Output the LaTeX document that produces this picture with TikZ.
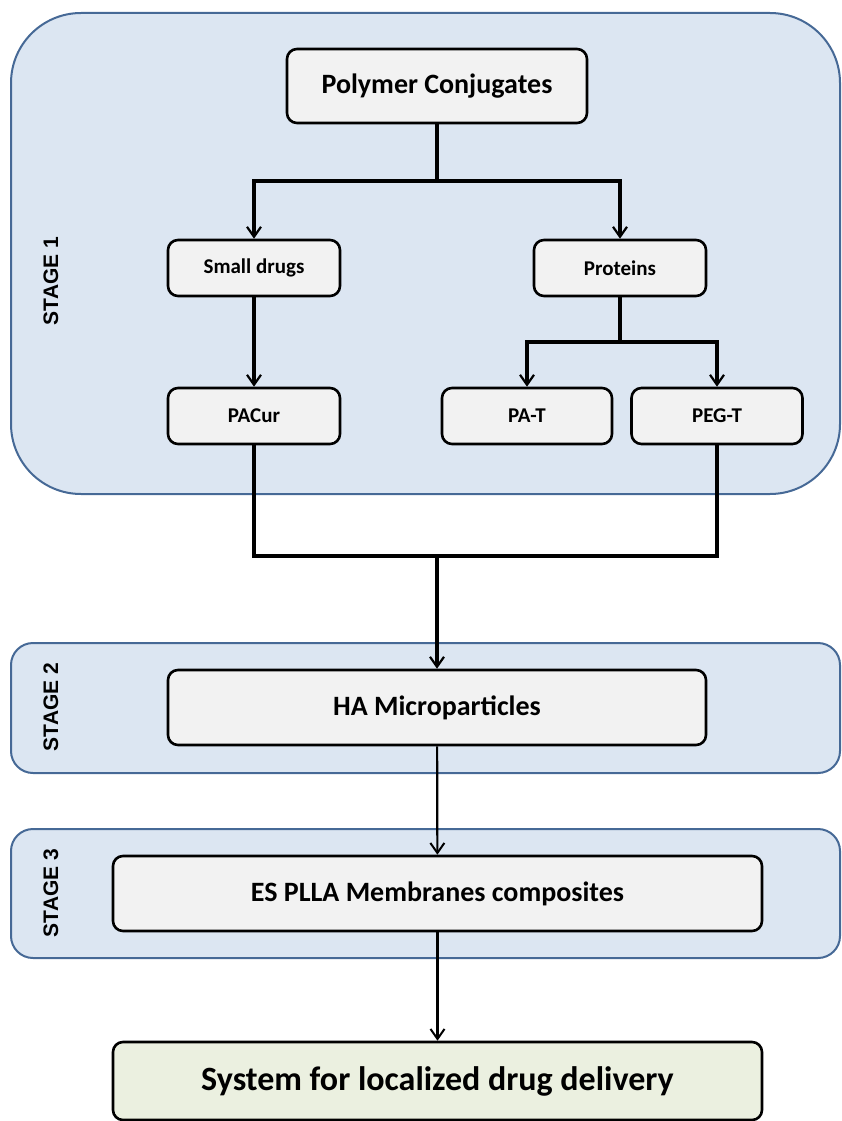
\documentclass[tikz,border=0pt]{standalone}
\usepackage{fontspec}
\setmainfont{Carlito}
\newfontfamily\stagefont{Liberation Sans}
\usetikzlibrary{arrows.meta, positioning}
\definecolor{stagefill}{RGB}{220,230,242}
\definecolor{stageline}{RGB}{70,105,150}
\definecolor{boxfill}{RGB}{242,242,242}
\definecolor{endfill}{RGB}{235,240,224}

\begin{document}
\begin{tikzpicture}[x=1pt, y=-1pt,
    stagebox/.style={rectangle, draw=stageline, fill=stagefill, line width=2pt, inner sep=0pt},
    stagelabel/.style={rotate=90, font=\stagefont\bfseries\fontsize{21}{24}\selectfont},
    item/.style={rectangle, draw, fill=boxfill, rounded corners=10pt, line width=2.6pt, text centered, inner sep=0pt, font=\bfseries\fontsize{21}{24}\selectfont},
    bigitem/.style={item, font=\bfseries\fontsize{28}{32}\selectfont},
    link/.style={line width=3.4pt, -{Straight Barb[length=10pt, width=14pt, line width=2.2pt]}},
    flat/.style={line width=3.4pt},
    thinlink/.style={line width=2.2pt, -{Straight Barb[length=10pt, width=14pt, line width=2pt]}}
]
\useasboundingbox (0,0) rectangle (842,1121);
% Stage backgrounds
\node[stagebox, rounded corners=70pt, minimum width=829pt, minimum height=481pt] (stage1) at (425.5,253.5) {};
\node[stagebox, rounded corners=22pt, minimum width=829pt, minimum height=130pt] (stage2) at (425.5,708) {};
\node[stagebox, rounded corners=22pt, minimum width=829pt, minimum height=129pt] (stage3) at (425.5,893.5) {};
\node[stagelabel] (lab1) at (51,281) {STAGE 1};
\node[stagelabel] (lab2) at (51,707) {STAGE 2};
\node[stagelabel] (lab3) at (51,893) {STAGE 3};
% Stage 1
\node[bigitem, minimum width=300pt, minimum height=74pt] (conj) at (437,86) {Polymer Conjugates};
\node[item, minimum width=172pt, minimum height=56pt] (drugs) at (254,268) {Small drugs};
\node[item, minimum width=172pt, minimum height=56pt] (prot) at (620,268) {Proteins};
\node[item, minimum width=172pt, minimum height=56pt] (pacur) at (254,416) {PACur};
\node[item, minimum width=170pt, minimum height=56pt] (pat) at (527,416) {PA-T};
\node[item, minimum width=171pt, minimum height=56pt] (pegt) at (717,416) {PEG-T};
% Stage 2 and 3
\node[bigitem, minimum width=538pt, minimum height=75pt] (ha) at (437,707.5) {HA Microparticles};
\node[bigitem, minimum width=649pt, minimum height=75pt] (es) at (437.5,893.5) {ES PLLA Membranes composites};
% Result
\node[bigitem, fill=endfill, minimum width=649pt, minimum height=78pt, font=\bfseries\fontsize{34}{38}\selectfont] (system) at (437.5,1081) {System for localized drug delivery};
% Connectors
\coordinate (split1) at (437,181);
\coordinate (split2) at (620,342);
\coordinate (merge) at (437,556);
\draw[flat] (conj) -- (split1);
\draw[link] (split1) -| (drugs);
\draw[link] (split1) -| (prot);
\draw[link] (drugs) -- (pacur);
\draw[flat] (prot) -- (split2);
\draw[link] (split2) -| (pat);
\draw[link] (split2) -| (pegt);
\draw[flat] (pacur.south) |- (merge) -| (pegt.south);
\draw[link] (merge) -- (ha);
\draw[thinlink] (ha) -- (es);
\draw[thinlink] (es) -- (system);
\end{tikzpicture}
\end{document}
